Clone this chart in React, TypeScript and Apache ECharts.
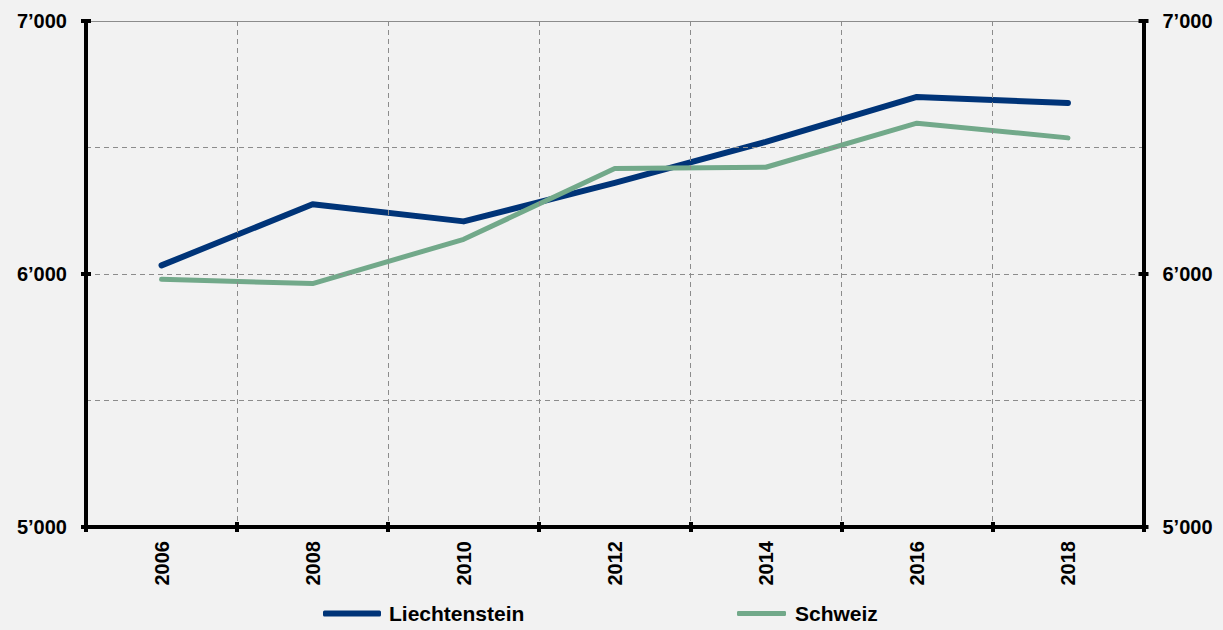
import React, { useEffect, useRef } from "react";
import * as echarts from "echarts";

const years = ["2006", "2008", "2010", "2012", "2014", "2016", "2018"];
const liechtenstein = [6034, 6276, 6208, 6360, 6522, 6700, 6676];
const schweiz = [5979, 5962, 6137, 6417, 6422, 6596, 6538];
const seriesNames = ["Liechtenstein", "Schweiz"];

const NAVY = "#003478";
const GREEN = "#72a98a";
const GRID = "#8c8c8c";
const FONT = "'Liberation Sans', Arial, sans-serif";

const fmt = (v: number) => {
  const s = String(Math.round(v));
  return s.slice(0, -3) + "\u2019" + s.slice(-3);
};

export default function App() {
  const ref = useRef<HTMLDivElement>(null);
  useEffect(() => {
    document.body.style.margin = "0";
    const chart = echarts.init(ref.current!, null, { renderer: "svg" });
    const labelStyle = { color: "#000", fontWeight: "bold" as const, fontSize: 20, fontFamily: FONT };
    const yBase = {
      type: "value" as const,
      min: 5000,
      max: 7000,
      interval: 1000,
    };
    chart.setOption({
      animation: false,
      backgroundColor: "#f2f2f2",
      textStyle: { fontFamily: FONT },
      grid: { left: 86, right: 79.5, top: 21, bottom: 103, containLabel: false },
      legend: [
        {
          data: [seriesNames[0]],
          left: 318,
          top: 598,
          icon: "roundRect",
          itemWidth: 58,
          itemHeight: 6,
          textStyle: { ...labelStyle, fontSize: 21, padding: [0, 0, 0, 3] },
        },
        {
          data: [seriesNames[1]],
          left: 732,
          top: 598,
          icon: "roundRect",
          itemWidth: 49,
          itemHeight: 5,
          textStyle: { ...labelStyle, fontSize: 21, padding: [0, 0, 0, 4] },
        },
      ],
      xAxis: [
        {
          type: "category",
          position: "bottom",
          data: years,
          boundaryGap: true,
          axisLine: { show: true, lineStyle: { color: "#000", width: 4 } },
          axisTick: { show: true, interval: 0, length: 5, lineStyle: { color: "#000", width: 4 } },
          axisLabel: { ...labelStyle, rotate: 90, margin: 14, interval: 0 },
          splitLine: { show: true, interval: 0, lineStyle: { color: GRID, type: [5, 4], width: 1 } },
          z: 5,
        },
        {
          type: "category",
          position: "top",
          data: years,
          boundaryGap: true,
          axisLine: { show: true, lineStyle: { color: GRID, width: 1 } },
          axisTick: { show: false },
          axisLabel: { show: false },
          splitLine: { show: false },
        },
        {
          type: "category",
          position: "bottom",
          data: years,
          boundaryGap: true,
          axisLine: { show: false },
          axisTick: { show: true, inside: true, interval: 0, length: 5, lineStyle: { color: "#000", width: 4 } },
          axisLabel: { show: false },
          splitLine: { show: false },
          z: 5,
        },
      ],
      yAxis: [
        {
          ...yBase,
          position: "left",
          axisLine: { show: true, lineStyle: { color: "#000", width: 4 } },
          axisTick: { show: true, length: 5, lineStyle: { color: "#000", width: 4 } },
          axisLabel: { ...labelStyle, margin: 19, formatter: fmt },
          splitLine: { show: true, lineStyle: { color: GRID, type: [5, 4], width: 1 } },
          minorTick: { show: false, splitNumber: 2 },
          minorSplitLine: { show: true, lineStyle: { color: GRID, type: [5, 4], width: 1 } },
          z: 5,
        },
        {
          ...yBase,
          position: "right",
          axisLine: { show: true, lineStyle: { color: "#000", width: 4 } },
          axisTick: { show: true, length: 5, lineStyle: { color: "#000", width: 4 } },
          axisLabel: { ...labelStyle, margin: 19, formatter: fmt },
          splitLine: { show: false },
          z: 5,
        },
        {
          ...yBase,
          position: "left",
          axisLine: { show: false },
          axisTick: { show: true, inside: true, length: 5, lineStyle: { color: "#000", width: 4 } },
          axisLabel: { show: false },
          splitLine: { show: false },
          z: 5,
        },
        {
          ...yBase,
          position: "right",
          axisLine: { show: false },
          axisTick: { show: true, inside: true, length: 5, lineStyle: { color: "#000", width: 4 } },
          axisLabel: { show: false },
          splitLine: { show: false },
          z: 5,
        },
      ],
      series: [
        {
          name: seriesNames[0],
          type: "line",
          data: liechtenstein,
          showSymbol: false,
          symbol: "none",
          color: NAVY,
          lineStyle: { color: NAVY, width: 6, cap: "round", join: "round" },
          z: 3,
        },
        {
          name: seriesNames[1],
          type: "line",
          data: schweiz,
          showSymbol: false,
          symbol: "none",
          color: GREEN,
          lineStyle: { color: GREEN, width: 5, cap: "round", join: "round" },
          z: 3,
        },
      ],
    });
    return () => chart.dispose();
  }, []);
  return <div ref={ref} style={{ width: 1223, height: 630 }} />;
}
